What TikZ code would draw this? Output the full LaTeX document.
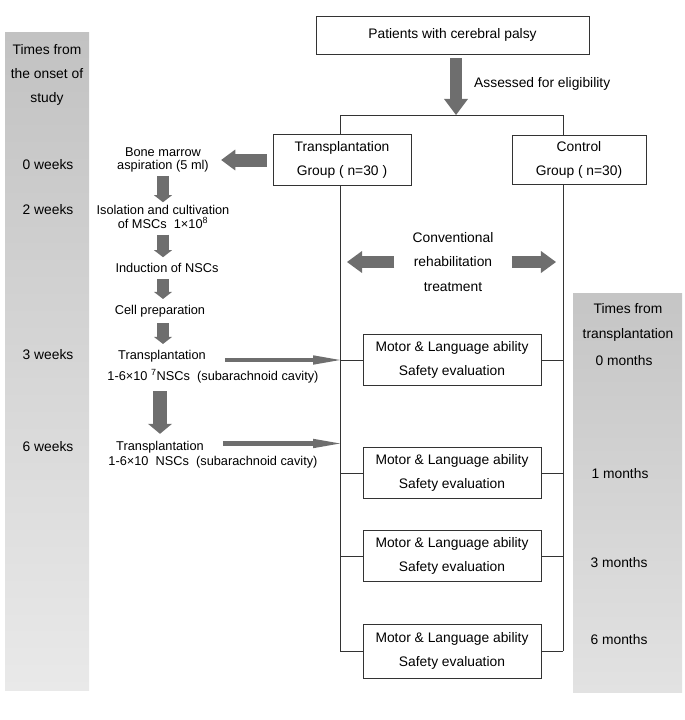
\documentclass[tikz,border=0pt]{standalone}
\usepackage{fontspec}
\setmainfont{Liberation Sans}
\usetikzlibrary{positioning,calc,arrows.meta}

\definecolor{arrowgray}{HTML}{6E6E6E}
\definecolor{boxline}{HTML}{333333}
\definecolor{barTop}{HTML}{C2C2C2}
\definecolor{barBot}{HTML}{E9E9E9}

\begin{document}
\begin{tikzpicture}[
  x=0.03cm, y=-0.03cm,
  every node/.style={align=center, font=\fontsize{11.8}{20.8}\selectfont},
  box/.style={draw=boxline, line width=0.8pt, inner sep=0pt},
  evalbox/.style={box, minimum width=5.34cm, minimum height=1.53cm},
  stepnode/.style={font=\fontsize{10.9}{11.8}\selectfont, inner sep=1pt},
  link/.style={draw=boxline, line width=0.8pt},
  fat/.style n args={3}{draw=arrowgray, line width=#1,
    -{Triangle[width=#2, length=#3, line width=0pt]}}
]
\useasboundingbox (0,0) rectangle (685,720);

% --- Time bars ---
\shade[top color=barTop, bottom color=barBot] (5,32) rectangle (89,690);
\shade[top color=barTop!95!white, bottom color=barBot!97!black] (573,293) rectangle (682,692);

\node (weekhead) at (47,75) {Times from\\the onset of\\study};
\node (w0) at (48,165) {0 weeks};
\node (w2) at (48,210) {2 weeks};
\node (w3) at (48,355) {3 weeks};
\node (w6) at (48,447) {6 weeks};

\node (monthhead) at (628,322.5) {Times from\\transplantation};
\node (m0) at (624,361) {0 months};
\node (m1) at (620,474) {1 months};
\node (m3) at (619,563) {3 months};
\node (m6) at (619,640) {6 months};

% --- Enrolment and groups ---
\node[box, minimum width=8.19cm, minimum height=1.14cm] (pat) at (452.5,35) {Patients with cerebral palsy};
\coordinate (split) at (456,115);
\coordinate (tt) at (340,115);
\coordinate (ct) at (563,115);
\node[anchor=west, inner sep=0pt] (elig) at (474,84) {Assessed for eligibility};

\node[box, minimum width=4.14cm, minimum height=1.53cm] (trans) at (342,160) {Transplantation\\Group ( n=30 )};
\node[box, minimum width=4.02cm, minimum height=1.47cm] (ctrl) at (579,160) {Control\\Group ( n=30)};

\draw[fat={10.2pt}{20.5pt}{13.7pt}, shorten <=3.4pt] (pat.south -| split) -- (split);
\draw[link] (trans.north -| tt) -- (tt) -- (ct) -- (ctrl.north -| ct);

% --- Follow-up evaluations ---
\node[evalbox] (ev1) at (452,360) {Motor \& Language ability\\Safety evaluation};
\node[evalbox] (ev2) at (452,473) {Motor \& Language ability\\Safety evaluation};
\node[evalbox] (ev3) at (452,556) {Motor \& Language ability\\Safety evaluation};
\node[evalbox, minimum height=1.62cm] (ev4) at (452,651) {Motor \& Language ability\\Safety evaluation};

\draw[link] (trans.south -| tt) -- (ev4.west -| tt);
\draw[link] (ctrl.south -| ct) -- (ev4.east -| ct);
\foreach \e in {ev1,ev2,ev3,ev4} {
  \draw[link] (\e.west) -- (\e.west -| tt);
  \draw[link] (\e.east) -- (\e.east -| ct);
}

\node (conv) at (453,262) {Conventional\\rehabilitation\\treatment};
\draw[fat={9.4pt}{18.8pt}{12.8pt}, shorten <=12pt, shorten >=6pt] (conv.west) -- (conv.west -| tt);
\draw[fat={9.4pt}{18.8pt}{12.8pt}, shorten <=12pt, shorten >=6pt] (conv.east) -- (conv.east -| ct);

% --- Cell processing steps ---
\node[stepnode] (bm)   at (163,160) {Bone marrow\\aspiration (5 ml)};
\node[stepnode] (iso)  at (163,217) {Isolation and cultivation\\of MSCs\ \ 1×10\textsuperscript{8}};
\node[stepnode] (ind)  at (167,268) {Induction of NSCs};
\node[stepnode] (cell) at (160,311) {Cell preparation};
\node[stepnode] (tp1)  at (162,356) {Transplantation};
\node[stepnode] (dose1) at (213,376) {1-6×10 \textsuperscript{7}NSCs\ \ (subarachnoid cavity)};
\node[stepnode] (tp2)  at (160,447) {Transplantation};
\node[stepnode] (dose2) at (213,462) {1-6×10\ \ NSCs\ \ (subarachnoid cavity)};

\draw[fat={11.1pt}{17.9pt}{12pt}, shorten <=5.1pt, shorten >=9.4pt] (trans.west) -- (trans.west -| bm.east);
\draw[fat={10.2pt}{15.4pt}{6pt}, shorten <=1.5pt, shorten >=1.5pt] (bm.south) -- (iso.north);
\draw[fat={10.2pt}{15.4pt}{6pt}, shorten <=4pt, shorten >=4pt] (iso.south) -- (iso.south |- ind.north);
\draw[fat={10.2pt}{15.4pt}{6pt}, shorten <=4pt, shorten >=4pt] (ind.south -| iso.south) -- (iso.south |- cell.north);
\draw[fat={10.2pt}{15.4pt}{6pt}, shorten <=4pt, shorten >=4pt] (cell.south -| iso.south) -- (iso.south |- tp1.north);
\draw[fat={12pt}{20.5pt}{8.5pt}, shorten <=6pt, shorten >=5pt] (dose1.south -| tp2.north) -- (tp2.north);

\draw[fat={3.8pt}{8.1pt}{23pt}, shorten <=15pt] (tp1.east |- ev1.west) -- (ev1.west -| tt);
\draw[fat={3.8pt}{8.1pt}{23pt}, shorten <=15pt] ([yshift=3pt]tp2.east) -- ([yshift=3pt]tp2.east -| tt);

\end{tikzpicture}
\end{document}
